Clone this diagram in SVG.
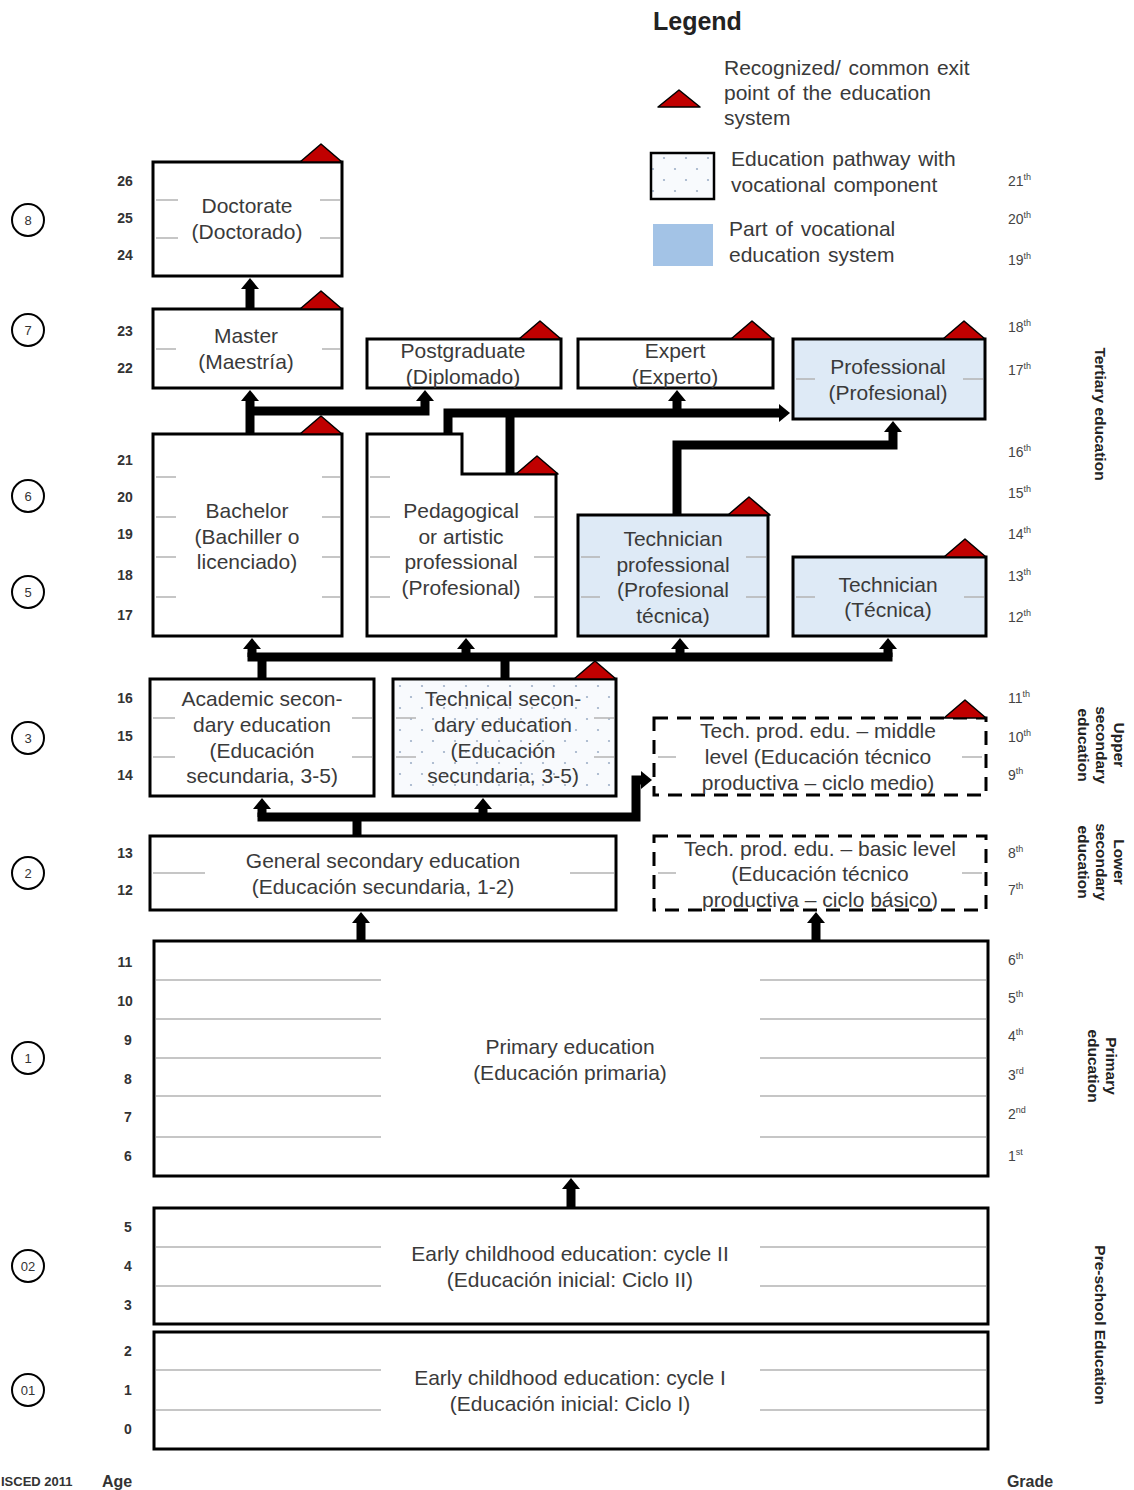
<svg xmlns="http://www.w3.org/2000/svg" width="1134" height="1490" viewBox="0 0 1134 1490">
<style>
.box{fill:#fff;stroke:#000;stroke-width:3}
.voc{fill:#deeaf6;stroke:#000;stroke-width:3}
.dash{fill:#fff;stroke:#000;stroke-width:3;stroke-dasharray:14 9}
.tick{stroke:#b4b4b4;stroke-width:1.6}
.t{font-family:"Liberation Sans",Arial,sans-serif;font-size:21px;fill:#3a3a3a;text-anchor:middle}
.lg{font-family:"Liberation Sans",Arial,sans-serif;font-size:21px;fill:#3a3a3a;word-spacing:2px}
.age{font-family:"Liberation Sans",Arial,sans-serif;font-size:14px;font-weight:bold;fill:#333;text-anchor:middle}
.gr{font-family:"Liberation Sans",Arial,sans-serif;font-size:14px;fill:#444}
.sup{font-size:9px}
.side{font-family:"Liberation Sans",Arial,sans-serif;font-size:15.5px;font-weight:bold;fill:#222;text-anchor:middle}
.lvl{fill:none;stroke:#000;stroke-width:2}
.lvt{font-family:"Liberation Sans",Arial,sans-serif;font-size:13px;fill:#333;text-anchor:middle}
.tri{fill:#c00000;stroke:#000;stroke-width:1.5;stroke-linejoin:round}
.con{fill:none;stroke:#000;stroke-width:9;stroke-linejoin:miter}
</style>
<defs>
<marker id="ah" markerUnits="userSpaceOnUse" markerWidth="11" markerHeight="18" viewBox="0 0 11 18" refX="1" refY="9" orient="auto">
<path d="M0,0 L11,9 L0,18 z" fill="#000"/>
</marker>
<pattern id="dots" width="22" height="22" patternUnits="userSpaceOnUse">
<rect width="22" height="22" fill="#f8fafd"/>
<circle cx="4" cy="4" r="1.1" fill="#9fb0c8"/>
<circle cx="15" cy="15" r="1.1" fill="#9fb0c8"/>
</pattern>
<polygon id="tr" points="-21,0 0,-18 21,0" class="tri"/>
</defs>

<!-- Legend -->
<g id="legend">
<text x="653" y="30" style="font-family:'Liberation Sans',Arial,sans-serif;font-size:25px;font-weight:bold;fill:#222">Legend</text>
<polygon points="658,107 679,90 700,107" class="tri"/>
<text class="lg" x="724" y="75">Recognized/ common exit</text>
<text class="lg" x="724" y="100">point of the education</text>
<text class="lg" x="724" y="125">system</text>
<rect x="651" y="153" width="63" height="46" fill="url(#dots)" stroke="#000" stroke-width="2.5"/>
<text class="lg" x="731" y="166">Education pathway with</text>
<text class="lg" x="731" y="192">vocational component</text>
<rect x="653" y="224" width="60" height="42" fill="#a3c3e6"/>
<text class="lg" x="729" y="236">Part of vocational</text>
<text class="lg" x="729" y="262">education system</text>
</g>

<!-- Connectors -->
<g id="connectors">
<path class="con" d="M250,309 V288" marker-end="url(#ah)"/>
<path class="con" d="M250,434 V400" marker-end="url(#ah)"/>
<path class="con" d="M250,411 H425 V400" marker-end="url(#ah)"/>
<path class="con" d="M510,474 V413"/>
<path class="con" d="M448,434 V413 H780" marker-end="url(#ah)"/>
<path class="con" d="M677,413 V400" marker-end="url(#ah)"/>
<path class="con" d="M677,515 V445 H893 V431" marker-end="url(#ah)"/>
<path class="con" d="M247.5,657 H892.5"/>
<path class="con" d="M252,657 V648" marker-end="url(#ah)"/>
<path class="con" d="M466,657 V648" marker-end="url(#ah)"/>
<path class="con" d="M680,657 V648" marker-end="url(#ah)"/>
<path class="con" d="M888,657 V648" marker-end="url(#ah)"/>
<path class="con" d="M262,679 V657"/>
<path class="con" d="M505,679 V657"/>
<path class="con" d="M262,817 V808" marker-end="url(#ah)"/>
<path class="con" d="M483,817 V808" marker-end="url(#ah)"/>
<path class="con" d="M357,836 V817"/>
<path class="con" d="M257.5,817 H636 V780 H642" marker-end="url(#ah)"/>
<path class="con" d="M361,941 V922" marker-end="url(#ah)"/>
<path class="con" d="M816,941 V922" marker-end="url(#ah)"/>
<path class="con" d="M571,1208 V1188" marker-end="url(#ah)"/>
</g>

<!-- Nodes -->
<g id="doctorate">
<rect class="box" x="153" y="162" width="189" height="114"/>
<path class="tick" d="M156,200 H178 M156,238 H178 M320,200 H340 M320,238 H340"/>
<text class="t" x="247" y="213">Doctorate</text>
<text class="t" x="247" y="239">(Doctorado)</text>
<use href="#tr" x="321" y="162"/>
</g>
<g id="master">
<rect class="box" x="153" y="309" width="189" height="79"/>
<path class="tick" d="M156,349 H176 M322,349 H340"/>
<text class="t" x="246" y="343">Master</text>
<text class="t" x="246" y="369">(Maestría)</text>
<use href="#tr" x="321" y="309"/>
</g>
<g id="postgraduate">
<rect class="box" x="367" y="339" width="194" height="49"/>
<text class="t" x="463" y="358">Postgraduate</text>
<text class="t" x="463" y="384">(Diplomado)</text>
<use href="#tr" x="540" y="339"/>
</g>
<g id="expert">
<rect class="box" x="578" y="339" width="195" height="49"/>
<text class="t" x="675" y="358">Expert</text>
<text class="t" x="675" y="384">(Experto)</text>
<use href="#tr" x="752" y="339"/>
</g>
<g id="professional">
<rect class="voc" x="793" y="339" width="192" height="80"/>
<path class="tick" d="M796,379 H815 M963,379 H983"/>
<text class="t" x="888" y="374">Professional</text>
<text class="t" x="888" y="400">(Profesional)</text>
<use href="#tr" x="964" y="339"/>
</g>
<g id="bachelor">
<rect class="box" x="153" y="434" width="189" height="202"/>
<path class="tick" d="M156,477 H176 M156,517 H176 M156,557 H176 M156,597 H176 M322,477 H340 M322,517 H340 M322,557 H340 M322,597 H340"/>
<text class="t" x="247" y="518">Bachelor</text>
<text class="t" x="247" y="544">(Bachiller o</text>
<text class="t" x="247" y="569">licenciado)</text>
<use href="#tr" x="321" y="434"/>
</g>
<g id="pedagogical">
<path class="box" d="M367,434 H462 V474 H556 V636 H367 Z"/>
<path class="tick" d="M370,477 H390 M370,517 H390 M370,557 H390 M370,597 H390 M534,517 H554 M534,557 H554 M534,597 H554"/>
<text class="t" x="461" y="518">Pedagogical</text>
<text class="t" x="461" y="544">or artistic</text>
<text class="t" x="461" y="569">professional</text>
<text class="t" x="461" y="595">(Profesional)</text>
<use href="#tr" x="537" y="474"/>
</g>
<g id="technician-professional">
<rect class="voc" x="578" y="515" width="190" height="121"/>
<path class="tick" d="M581,557 H600 M581,597 H600 M746,557 H766 M746,597 H766"/>
<text class="t" x="673" y="546">Technician</text>
<text class="t" x="673" y="572">professional</text>
<text class="t" x="673" y="597">(Profesional</text>
<text class="t" x="673" y="623">técnica)</text>
<use href="#tr" x="749" y="515"/>
</g>
<g id="technician">
<rect class="voc" x="793" y="557" width="193" height="79"/>
<path class="tick" d="M796,597 H815 M964,597 H984"/>
<text class="t" x="888" y="592">Technician</text>
<text class="t" x="888" y="617">(Técnica)</text>
<use href="#tr" x="965" y="557"/>
</g>
<g id="academic-secondary">
<rect class="box" x="150" y="679" width="224" height="117"/>
<path class="tick" d="M153,718 H175 M153,757 H175 M352,718 H372 M352,757 H372"/>
<text class="t" x="262" y="706">Academic secon-</text>
<text class="t" x="262" y="732">dary education</text>
<text class="t" x="262" y="758">(Educación</text>
<text class="t" x="262" y="783">secundaria, 3-5)</text>
</g>
<g id="technical-secondary">
<rect x="393" y="679" width="223" height="117" fill="url(#dots)" stroke="#000" stroke-width="3"/>
<path class="tick" d="M396,718 H416 M396,757 H416 M594,718 H614 M594,757 H614"/>
<text class="t" x="503" y="706">Technical secon-</text>
<text class="t" x="503" y="732">dary education</text>
<text class="t" x="503" y="758">(Educación</text>
<text class="t" x="503" y="783">secundaria, 3-5)</text>
<use href="#tr" x="595" y="679"/>
</g>
<g id="tech-prod-middle">
<rect class="dash" x="654" y="718" width="332" height="77"/>
<path class="tick" d="M658,757 H676 M962,757 H982"/>
<text class="t" x="818" y="738">Tech. prod. edu. – middle</text>
<text class="t" x="818" y="764">level  (Educación técnico</text>
<text class="t" x="818" y="790">productiva – ciclo medio)</text>
<use href="#tr" x="965" y="718"/>
</g>
<g id="general-secondary">
<rect class="box" x="150" y="836" width="466" height="74"/>
<path class="tick" d="M153,873 H205 M570,873 H614"/>
<text class="t" x="383" y="868">General secondary education</text>
<text class="t" x="383" y="894">(Educación secundaria, 1-2)</text>
</g>
<g id="tech-prod-basic">
<rect class="dash" x="654" y="836" width="332" height="74"/>
<path class="tick" d="M658,873 H676 M962,873 H982"/>
<text class="t" x="820" y="856">Tech. prod. edu. – basic level</text>
<text class="t" x="820" y="881">(Educación técnico</text>
<text class="t" x="820" y="907">productiva – ciclo básico)</text>
</g>
<g id="primary">
<rect class="box" x="154" y="941" width="834" height="235"/>
<path class="tick" d="M156,980 H381 M156,1019 H381 M156,1058 H381 M156,1096 H381 M156,1137 H381 M760,980 H986 M760,1019 H986 M760,1058 H986 M760,1096 H986 M760,1137 H986"/>
<text class="t" x="570" y="1054">Primary education</text>
<text class="t" x="570" y="1080">(Educación primaria)</text>
</g>
<g id="early-cycle-2">
<rect class="box" x="154" y="1208" width="834" height="116"/>
<path class="tick" d="M156,1247 H381 M156,1286 H381 M760,1247 H986 M760,1286 H986"/>
<text class="t" x="570" y="1261">Early childhood education: cycle II</text>
<text class="t" x="570" y="1287">(Educación inicial: Ciclo II)</text>
</g>
<g id="early-cycle-1">
<rect class="box" x="154" y="1332" width="834" height="117"/>
<path class="tick" d="M156,1370 H381 M156,1410 H381 M760,1370 H986 M760,1410 H986"/>
<text class="t" x="570" y="1385">Early childhood education: cycle I</text>
<text class="t" x="570" y="1411">(Educación inicial: Ciclo I)</text>
</g>

<!-- ISCED level circles -->
<g id="levels">
<circle class="lvl" cx="28" cy="220" r="16"/><text class="lvt" x="28" y="225">8</text>
<circle class="lvl" cx="28" cy="330" r="16"/><text class="lvt" x="28" y="335">7</text>
<circle class="lvl" cx="28" cy="496" r="16"/><text class="lvt" x="28" y="501">6</text>
<circle class="lvl" cx="28" cy="592" r="16"/><text class="lvt" x="28" y="597">5</text>
<circle class="lvl" cx="28" cy="738" r="16"/><text class="lvt" x="28" y="743">3</text>
<circle class="lvl" cx="28" cy="873" r="16"/><text class="lvt" x="28" y="878">2</text>
<circle class="lvl" cx="28" cy="1058" r="16"/><text class="lvt" x="28" y="1063">1</text>
<circle class="lvl" cx="28" cy="1266" r="16"/><text class="lvt" x="28" y="1271">02</text>
<circle class="lvl" cx="28" cy="1390" r="16"/><text class="lvt" x="28" y="1395">01</text>
</g>

<!-- Ages -->
<g id="ages">
<text class="age" x="125" y="186">26</text>
<text class="age" x="125" y="223">25</text>
<text class="age" x="125" y="260">24</text>
<text class="age" x="125" y="336">23</text>
<text class="age" x="125" y="373">22</text>
<text class="age" x="125" y="465">21</text>
<text class="age" x="125" y="502">20</text>
<text class="age" x="125" y="539">19</text>
<text class="age" x="125" y="580">18</text>
<text class="age" x="125" y="620">17</text>
<text class="age" x="125" y="703">16</text>
<text class="age" x="125" y="741">15</text>
<text class="age" x="125" y="780">14</text>
<text class="age" x="125" y="858">13</text>
<text class="age" x="125" y="895">12</text>
<text class="age" x="125" y="967">11</text>
<text class="age" x="125" y="1006">10</text>
<text class="age" x="128" y="1045">9</text>
<text class="age" x="128" y="1084">8</text>
<text class="age" x="128" y="1122">7</text>
<text class="age" x="128" y="1161">6</text>
<text class="age" x="128" y="1232">5</text>
<text class="age" x="128" y="1271">4</text>
<text class="age" x="128" y="1310">3</text>
<text class="age" x="128" y="1356">2</text>
<text class="age" x="128" y="1395">1</text>
<text class="age" x="128" y="1434">0</text>
</g>

<!-- Grades -->
<g id="grades">
<text class="gr" x="1008" y="186">21<tspan class="sup" dy="-6">th</tspan></text>
<text class="gr" x="1008" y="224">20<tspan class="sup" dy="-6">th</tspan></text>
<text class="gr" x="1008" y="265">19<tspan class="sup" dy="-6">th</tspan></text>
<text class="gr" x="1008" y="332">18<tspan class="sup" dy="-6">th</tspan></text>
<text class="gr" x="1008" y="375">17<tspan class="sup" dy="-6">th</tspan></text>
<text class="gr" x="1008" y="457">16<tspan class="sup" dy="-6">th</tspan></text>
<text class="gr" x="1008" y="498">15<tspan class="sup" dy="-6">th</tspan></text>
<text class="gr" x="1008" y="539">14<tspan class="sup" dy="-6">th</tspan></text>
<text class="gr" x="1008" y="581">13<tspan class="sup" dy="-6">th</tspan></text>
<text class="gr" x="1008" y="622">12<tspan class="sup" dy="-6">th</tspan></text>
<text class="gr" x="1008" y="703">11<tspan class="sup" dy="-6">th</tspan></text>
<text class="gr" x="1008" y="742">10<tspan class="sup" dy="-6">th</tspan></text>
<text class="gr" x="1008" y="780">9<tspan class="sup" dy="-6">th</tspan></text>
<text class="gr" x="1008" y="858">8<tspan class="sup" dy="-6">th</tspan></text>
<text class="gr" x="1008" y="895">7<tspan class="sup" dy="-6">th</tspan></text>
<text class="gr" x="1008" y="965">6<tspan class="sup" dy="-6">th</tspan></text>
<text class="gr" x="1008" y="1003">5<tspan class="sup" dy="-6">th</tspan></text>
<text class="gr" x="1008" y="1041">4<tspan class="sup" dy="-6">th</tspan></text>
<text class="gr" x="1008" y="1080">3<tspan class="sup" dy="-6">rd</tspan></text>
<text class="gr" x="1008" y="1119">2<tspan class="sup" dy="-6">nd</tspan></text>
<text class="gr" x="1008" y="1161">1<tspan class="sup" dy="-6">st</tspan></text>
</g>

<!-- Side labels -->
<g id="side-labels">
<text class="side" transform="translate(1095,414) rotate(90)">Tertiary education</text>
<text class="side" transform="translate(1114,745) rotate(90)">Upper</text>
<text class="side" transform="translate(1096,745) rotate(90)">secondary</text>
<text class="side" transform="translate(1078,745) rotate(90)">education</text>
<text class="side" transform="translate(1114,862) rotate(90)">Lower</text>
<text class="side" transform="translate(1096,862) rotate(90)">secondary</text>
<text class="side" transform="translate(1078,862) rotate(90)">education</text>
<text class="side" transform="translate(1106,1066) rotate(90)">Primary</text>
<text class="side" transform="translate(1088,1066) rotate(90)">education</text>
<text class="side" transform="translate(1095,1325) rotate(90)">Pre-school Education</text>
</g>

<g id="footer">
<text x="1" y="1486" style="font-family:'Liberation Sans',Arial,sans-serif;font-size:13px;font-weight:bold;fill:#333">ISCED 2011</text>
<text x="117" y="1487" style="font-family:'Liberation Sans',Arial,sans-serif;font-size:16px;font-weight:bold;fill:#333;text-anchor:middle">Age</text>
<text x="1030" y="1487" style="font-family:'Liberation Sans',Arial,sans-serif;font-size:16px;font-weight:bold;fill:#333;text-anchor:middle">Grade</text>
</g>
</svg>
